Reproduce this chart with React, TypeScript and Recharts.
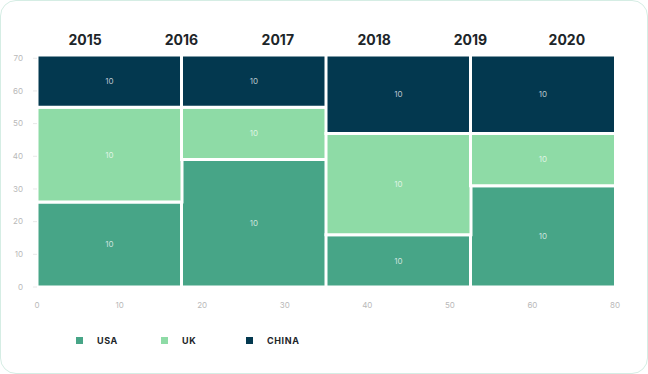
import React from 'react';
import { Bar, BarChart, LabelList, XAxis, YAxis } from 'recharts';

const years = ['2015', '2016', '2017', '2018', '2019', '2020'];
const columns = ['c1', 'c2', 'c3', 'c4'];
const usa = [26, 39, 16, 31];
const uk = [29, 16, 31, 16];
const china = [16, 16, 24, 24];
const cellLabel = '10';
const xTickValues = [0, 10, 20, 30, 40, 50, 60, 70];
const xTickLabels = ['0', '10', '20', '30', '40', '50', '60', '80'];
const yTicks = [0, 10, 20, 30, 40, 50, 60, 70];
const yearTicks = years.map((_, i) => i + 0.5);

const series = [
  { key: 'usa', name: 'USA', color: '#47a587' },
  { key: 'uk', name: 'UK', color: '#8edba6' },
  { key: 'china', name: 'CHINA', color: '#03384f' },
];

const rows = columns.map((col, i) => ({ col, usa: usa[i], uk: uk[i], china: china[i] }));

const font = 'Inter, "Noto Sans", sans-serif';
const tickStyle = { fill: '#b9b9b9', fontSize: 8, fontFamily: font };

export default function App() {
  return (
    <div style={{ position: 'absolute', left: 0, top: 0, width: 648, height: 374, fontFamily: font }}>
      <div
        style={{
          position: 'absolute',
          inset: 0,
          border: '1.5px solid #d5ede4',
          borderRadius: 16,
          boxSizing: 'border-box',
        }}
      />
      <div style={{ position: 'absolute', left: 0, top: 0 }}>
        <BarChart
          width={648}
          height={374}
          data={rows}
          barCategoryGap={0}
          margin={{ top: 25, right: 33, left: 0, bottom: 57 }}
        >
          <XAxis xAxisId="cat" dataKey="col" hide height={0} />
          <XAxis
            xAxisId="num"
            dataKey="pos"
            type="number"
            domain={[0, 70]}
            allowDataOverflow
            ticks={xTickValues}
            interval={0}
            tickFormatter={(v: number) => xTickLabels[xTickValues.indexOf(v)]}
            axisLine={false}
            tickLine={false}
            tickSize={0}
            tickMargin={15}
            height={30}
            tick={tickStyle}
          />
          <XAxis
            xAxisId="years"
            dataKey="slot"
            orientation="top"
            type="number"
            domain={[0, years.length]}
            allowDataOverflow
            ticks={yearTicks}
            interval={0}
            tickFormatter={(v: number) => years[Math.floor(v)]}
            axisLine={false}
            tickLine={false}
            tickSize={0}
            tickMargin={10}
            height={30}
            tick={{ fill: '#1d2529', fontSize: 14, fontWeight: 700, fontFamily: font }}
          />
          <YAxis
            domain={[0, 71]}
            ticks={yTicks}
            interval={0}
            width={37}
            axisLine={false}
            tickSize={4}
            tickLine={{ stroke: '#e8e8e8' }}
            tickMargin={10}
            tick={tickStyle}
          />
          {series.map((s) => (
            <Bar
              key={s.key}
              xAxisId="cat"
              dataKey={s.key}
              name={s.name}
              stackId="a"
              fill={s.color}
              stroke="#ffffff"
              strokeWidth={3}
              isAnimationActive={false}
            >
              <LabelList
                dataKey={s.key}
                position="center"
                formatter={() => cellLabel}
                style={{ fill: 'rgba(255,255,255,0.72)', fontSize: 8, fontFamily: font }}
              />
            </Bar>
          ))}
        </BarChart>
      </div>
      <div style={{ position: 'absolute', left: 76, top: 333, display: 'flex' }}>
        {series.map((s) => (
          <div key={s.key} style={{ width: 85, display: 'flex', alignItems: 'center', height: 14 }}>
            <span style={{ width: 7, height: 7, background: s.color, display: 'inline-block' }} />
            <span
              style={{
                marginLeft: 14,
                fontSize: 9,
                fontWeight: 700,
                letterSpacing: 0.6,
                color: '#1d2529',
              }}
            >
              {s.name}
            </span>
          </div>
        ))}
      </div>
    </div>
  );
}
